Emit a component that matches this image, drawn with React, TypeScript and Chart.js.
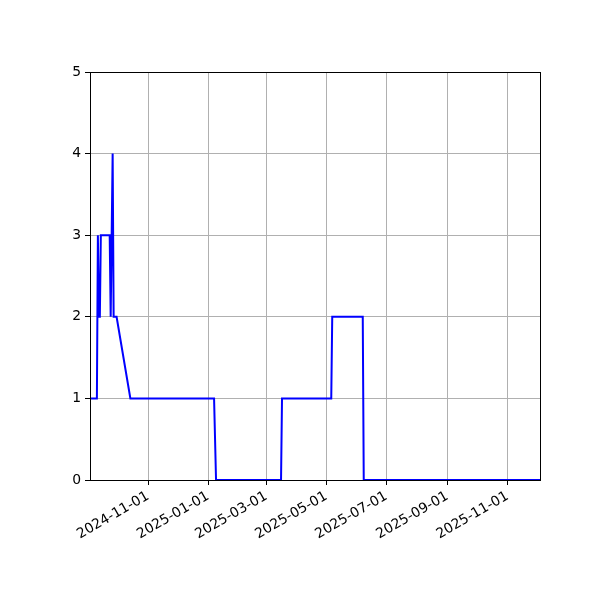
import { useEffect, useRef } from "react";
import { Chart, registerables } from "chart.js";

Chart.register(...registerables);

const obsDates = [
  "2024-09-03", "2024-09-10", "2024-09-11", "2024-09-12", "2024-09-13",
  "2024-09-14", "2024-09-23", "2024-09-24", "2024-09-25", "2024-09-26",
  "2024-09-27", "2024-09-30", "2024-10-14", "2025-01-07", "2025-01-09",
  "2025-03-16", "2025-03-17", "2025-05-06", "2025-05-07", "2025-06-07",
  "2025-06-08", "2025-12-04",
];
const obsCounts = [1, 1, 3, 2, 2, 3, 3, 2, 3, 4, 2, 2, 1, 1, 0, 0, 1, 1, 2, 2, 0, 0];

const xTickDates = [
  "2024-11-01", "2025-01-01", "2025-03-01", "2025-05-01",
  "2025-07-01", "2025-09-01", "2025-11-01",
];
const yTicks = [0, 1, 2, 3, 4, 5];

const toMs = (s: string) => Date.parse(s + "T00:00:00Z");

// full box around the plot area, like matplotlib spines
const frame = {
  id: "frame",
  afterDatasetsDraw(chart: Chart) {
    const { ctx, chartArea: a } = chart;
    ctx.save();
    ctx.strokeStyle = "#000";
    ctx.lineWidth = 1;
    ctx.strokeRect(Math.round(a.left) + 0.5, Math.round(a.top) + 0.5, Math.round(a.right - a.left), Math.round(a.bottom - a.top));
    ctx.restore();
  },
};

export default function App() {
  const canvasRef = useRef<HTMLCanvasElement>(null);
  const chartRef = useRef<Chart | null>(null);

  useEffect(() => {
    if (!canvasRef.current) return;
    if (chartRef.current) chartRef.current.destroy();

    const points = obsDates.map((d, i) => ({ x: toMs(d), y: obsCounts[i] }));
    const tickVals = xTickDates.map(toMs);
    const font = { family: "'DejaVu Sans', sans-serif", size: 13.9 };

    chartRef.current = new Chart(canvasRef.current, {
      type: "line",
      data: {
        datasets: [{
          data: points,
          borderColor: "#0000ff",
          borderWidth: 2,
          pointRadius: 0,
          tension: 0,
          fill: false,
        }],
      },
      options: {
        animation: false,
        responsive: true,
        maintainAspectRatio: false,
        devicePixelRatio: 1,
        layout: { padding: { left: 0, right: 60, top: 72, bottom: 0 } },
        plugins: { legend: { display: false }, tooltip: { enabled: false } },
        scales: {
          x: {
            type: "linear",
            min: toMs(obsDates[0]),
            max: toMs(obsDates[obsDates.length - 1]),
            afterBuildTicks: (scale: any) => {
              scale.ticks = tickVals.map((v) => ({ value: v }));
            },
            afterFit: (scale: any) => { scale.height = 120; },
            ticks: {
              autoSkip: false,
              minRotation: 30,
              maxRotation: 30,
              padding: 3,
              color: "#000",
              font,
              callback: (_v: any, i: number) => xTickDates[i],
            },
            grid: { color: "#b0b0b0", lineWidth: 1, tickLength: 5, tickColor: "#000" },
            border: { display: false },
          },
          y: {
            min: 0,
            max: 5,
            afterBuildTicks: (scale: any) => {
              scale.ticks = yTicks.map((v) => ({ value: v }));
            },
            afterFit: (scale: any) => { scale.width = 90; },
            ticks: { color: "#000", font, padding: 4 },
            grid: { color: "#b0b0b0", lineWidth: 1, tickLength: 5, tickColor: "#000" },
            border: { display: false },
          },
        },
      },
      plugins: [frame],
    });

    return () => {
      if (chartRef.current) {
        chartRef.current.destroy();
        chartRef.current = null;
      }
    };
  }, []);

  return (
    <div style={{ position: "absolute", left: 0, top: 0, width: 600, height: 600, background: "#fff" }}>
      <canvas ref={canvasRef}></canvas>
    </div>
  );
}
